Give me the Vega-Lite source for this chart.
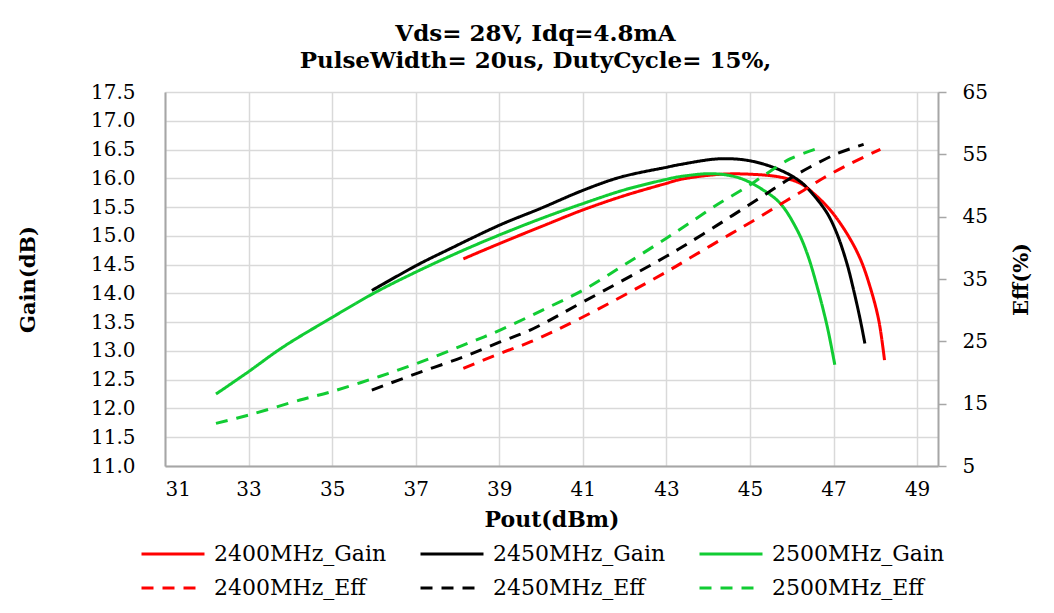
{
  "$schema": "https://vega.github.io/schema/vega-lite/v6.json",
  "autosize": "none",
  "width": 773,
  "height": 374,
  "padding": {"left": 165, "top": 92, "right": 116, "bottom": 147},
  "background": "white",
  "title": {
    "text": ["Vds= 28V, Idq=4.8mA", "PulseWidth=  20us, DutyCycle= 15%,"],
    "font": "DejaVu Serif",
    "fontWeight": "bold",
    "fontSize": 23,
    "lineHeight": 27,
    "anchor": "middle",
    "dx": -16,
    "offset": 9,
    "color": "black"
  },
  "config": {
    "view": {"stroke": null},
    "axis": {
      "labelFont": "DejaVu Serif",
      "labelFontSize": 20,
      "labelColor": "#000000",
      "titleFont": "DejaVu Serif",
      "titleFontWeight": "bold",
      "titleFontSize": 21,
      "titleColor": "#000000",
      "gridColor": "#d9d9d9",
      "gridWidth": 1.5,
      "domainColor": "#a6a6a6",
      "domainWidth": 2,
      "tickColor": "#a6a6a6",
      "tickWidth": 1.5
    },
    "legend": {
      "labelFont": "DejaVu Serif",
      "labelFontSize": 22,
      "labelColor": "#000000",
      "labelLimit": 400
    }
  },
  "datasets": {
    "gain": [
      {"s": "2400MHz_Gain", "x": 38.14, "y": 14.6},
      {"s": "2400MHz_Gain", "x": 39.02, "y": 14.87},
      {"s": "2400MHz_Gain", "x": 40.0, "y": 15.16},
      {"s": "2400MHz_Gain", "x": 41.0, "y": 15.45},
      {"s": "2400MHz_Gain", "x": 42.0, "y": 15.7},
      {"s": "2400MHz_Gain", "x": 42.99, "y": 15.91},
      {"s": "2400MHz_Gain", "x": 43.33, "y": 15.98},
      {"s": "2400MHz_Gain", "x": 44.29, "y": 16.07},
      {"s": "2400MHz_Gain", "x": 45.03, "y": 16.07},
      {"s": "2400MHz_Gain", "x": 45.73, "y": 16.02},
      {"s": "2400MHz_Gain", "x": 46.21, "y": 15.91},
      {"s": "2400MHz_Gain", "x": 46.52, "y": 15.74},
      {"s": "2400MHz_Gain", "x": 46.92, "y": 15.45},
      {"s": "2400MHz_Gain", "x": 47.32, "y": 15.04},
      {"s": "2400MHz_Gain", "x": 47.64, "y": 14.6},
      {"s": "2400MHz_Gain", "x": 47.88, "y": 14.1},
      {"s": "2400MHz_Gain", "x": 48.08, "y": 13.54},
      {"s": "2400MHz_Gain", "x": 48.22, "y": 12.84},
      {"s": "2450MHz_Gain", "x": 35.95, "y": 14.05},
      {"s": "2450MHz_Gain", "x": 37.03, "y": 14.49},
      {"s": "2450MHz_Gain", "x": 37.75, "y": 14.75},
      {"s": "2450MHz_Gain", "x": 39.02, "y": 15.19},
      {"s": "2450MHz_Gain", "x": 40.0, "y": 15.48},
      {"s": "2450MHz_Gain", "x": 41.0, "y": 15.79},
      {"s": "2450MHz_Gain", "x": 41.9, "y": 16.02},
      {"s": "2450MHz_Gain", "x": 42.99, "y": 16.19},
      {"s": "2450MHz_Gain", "x": 43.33, "y": 16.24},
      {"s": "2450MHz_Gain", "x": 44.29, "y": 16.34},
      {"s": "2450MHz_Gain", "x": 45.03, "y": 16.3},
      {"s": "2450MHz_Gain", "x": 45.73, "y": 16.14},
      {"s": "2450MHz_Gain", "x": 46.21, "y": 15.94},
      {"s": "2450MHz_Gain", "x": 46.52, "y": 15.71},
      {"s": "2450MHz_Gain", "x": 46.85, "y": 15.39},
      {"s": "2450MHz_Gain", "x": 47.08, "y": 15.04},
      {"s": "2450MHz_Gain", "x": 47.32, "y": 14.52},
      {"s": "2450MHz_Gain", "x": 47.48, "y": 14.06},
      {"s": "2450MHz_Gain", "x": 47.64, "y": 13.54},
      {"s": "2450MHz_Gain", "x": 47.75, "y": 13.13},
      {"s": "2500MHz_Gain", "x": 32.22, "y": 12.25},
      {"s": "2500MHz_Gain", "x": 33.0, "y": 12.64},
      {"s": "2500MHz_Gain", "x": 33.83, "y": 13.07},
      {"s": "2500MHz_Gain", "x": 34.97, "y": 13.57},
      {"s": "2500MHz_Gain", "x": 35.99, "y": 14.0},
      {"s": "2500MHz_Gain", "x": 37.03, "y": 14.38},
      {"s": "2500MHz_Gain", "x": 38.14, "y": 14.75},
      {"s": "2500MHz_Gain", "x": 39.02, "y": 15.02},
      {"s": "2500MHz_Gain", "x": 40.0, "y": 15.3},
      {"s": "2500MHz_Gain", "x": 41.0, "y": 15.56},
      {"s": "2500MHz_Gain", "x": 42.0, "y": 15.8},
      {"s": "2500MHz_Gain", "x": 42.99, "y": 15.98},
      {"s": "2500MHz_Gain", "x": 43.33, "y": 16.03},
      {"s": "2500MHz_Gain", "x": 44.13, "y": 16.08},
      {"s": "2500MHz_Gain", "x": 44.77, "y": 16.0},
      {"s": "2500MHz_Gain", "x": 45.33, "y": 15.79},
      {"s": "2500MHz_Gain", "x": 45.73, "y": 15.56},
      {"s": "2500MHz_Gain", "x": 46.13, "y": 15.1},
      {"s": "2500MHz_Gain", "x": 46.37, "y": 14.69},
      {"s": "2500MHz_Gain", "x": 46.61, "y": 14.11},
      {"s": "2500MHz_Gain", "x": 46.85, "y": 13.42},
      {"s": "2500MHz_Gain", "x": 47.03, "y": 12.76}
    ],
    "eff": [
      {"s": "2400MHz_Eff", "x": 38.14, "y": 20.66},
      {"s": "2400MHz_Eff", "x": 39.02, "y": 23.06},
      {"s": "2400MHz_Eff", "x": 39.74, "y": 24.9},
      {"s": "2400MHz_Eff", "x": 41.0, "y": 28.9},
      {"s": "2400MHz_Eff", "x": 42.99, "y": 36.1},
      {"s": "2400MHz_Eff", "x": 43.57, "y": 38.4},
      {"s": "2400MHz_Eff", "x": 44.53, "y": 42.2},
      {"s": "2400MHz_Eff", "x": 45.17, "y": 44.7},
      {"s": "2400MHz_Eff", "x": 45.73, "y": 47.0},
      {"s": "2400MHz_Eff", "x": 46.28, "y": 49.2},
      {"s": "2400MHz_Eff", "x": 46.76, "y": 51.2},
      {"s": "2400MHz_Eff", "x": 47.4, "y": 53.5},
      {"s": "2400MHz_Eff", "x": 48.12, "y": 55.8},
      {"s": "2450MHz_Eff", "x": 35.95, "y": 17.18},
      {"s": "2450MHz_Eff", "x": 37.03, "y": 19.86},
      {"s": "2450MHz_Eff", "x": 38.14, "y": 22.5},
      {"s": "2450MHz_Eff", "x": 39.02, "y": 24.9},
      {"s": "2450MHz_Eff", "x": 39.74, "y": 26.8},
      {"s": "2450MHz_Eff", "x": 41.0, "y": 31.3},
      {"s": "2450MHz_Eff", "x": 42.99, "y": 38.6},
      {"s": "2450MHz_Eff", "x": 43.49, "y": 40.6},
      {"s": "2450MHz_Eff", "x": 44.21, "y": 43.6},
      {"s": "2450MHz_Eff", "x": 44.77, "y": 46.0},
      {"s": "2450MHz_Eff", "x": 45.33, "y": 48.4},
      {"s": "2450MHz_Eff", "x": 45.89, "y": 50.85},
      {"s": "2450MHz_Eff", "x": 46.45, "y": 53.0},
      {"s": "2450MHz_Eff", "x": 47.08, "y": 55.1},
      {"s": "2450MHz_Eff", "x": 47.72, "y": 56.6},
      {"s": "2500MHz_Eff", "x": 32.22, "y": 11.84},
      {"s": "2500MHz_Eff", "x": 33.0, "y": 13.17},
      {"s": "2500MHz_Eff", "x": 34.23, "y": 15.58},
      {"s": "2500MHz_Eff", "x": 34.97, "y": 16.9},
      {"s": "2500MHz_Eff", "x": 35.99, "y": 19.05},
      {"s": "2500MHz_Eff", "x": 37.03, "y": 21.46},
      {"s": "2500MHz_Eff", "x": 38.14, "y": 24.39},
      {"s": "2500MHz_Eff", "x": 39.02, "y": 26.8},
      {"s": "2500MHz_Eff", "x": 40.0, "y": 29.9},
      {"s": "2500MHz_Eff", "x": 41.0, "y": 33.2},
      {"s": "2500MHz_Eff", "x": 42.0, "y": 37.3},
      {"s": "2500MHz_Eff", "x": 42.99, "y": 41.5},
      {"s": "2500MHz_Eff", "x": 43.49, "y": 43.7},
      {"s": "2500MHz_Eff", "x": 44.21, "y": 46.9},
      {"s": "2500MHz_Eff", "x": 44.93, "y": 49.8},
      {"s": "2500MHz_Eff", "x": 45.33, "y": 51.6},
      {"s": "2500MHz_Eff", "x": 45.97, "y": 54.3},
      {"s": "2500MHz_Eff", "x": 46.61, "y": 55.93}
    ]
  },
  "encoding": {
    "x": {
      "field": "x",
      "type": "quantitative",
      "scale": {"domain": [31, 49.5], "nice": false, "zero": false},
      "axis": {
        "values": [31, 33, 35, 37, 39, 41, 43, 45, 47, 49],
        "title": "Pout(dBm)",
        "titleFontSize": 22,
        "ticks": false,
        "labelPadding": 13,
        "titlePadding": 10,
        "grid": true
      }
    },
    "color": {
      "field": "s",
      "type": "nominal",
      "scale": {
        "domain": ["2400MHz_Gain", "2450MHz_Gain", "2500MHz_Gain", "2400MHz_Eff", "2450MHz_Eff", "2500MHz_Eff"],
        "range": ["#ff0000", "#000000", "#11cc33", "#ff0000", "#000000", "#11cc33"]
      },
      "legend": {
        "title": null,
        "orient": "none",
        "direction": "horizontal",
        "columns": 3,
        "legendX": -25,
        "legendY": 449,
        "symbolType": "stroke",
        "symbolSize": 3969,
        "symbolStrokeWidth": 3,
        "labelOffset": 8,
        "columnPadding": 32,
        "rowPadding": 8,
        "clipHeight": 26,
        "gridAlign": "all"
      }
    },
    "strokeDash": {
      "field": "s",
      "type": "nominal",
      "scale": {
        "domain": ["2400MHz_Gain", "2450MHz_Gain", "2500MHz_Gain", "2400MHz_Eff", "2450MHz_Eff", "2500MHz_Eff"],
        "range": [[1, 0], [1, 0], [1, 0], [12, 9], [12, 9], [12, 9]]
      },
      "legend": null
    }
  },
  "layer": [
    {
      "data": {"name": "gain"},
      "mark": {"type": "line", "interpolate": "catmull-rom", "strokeWidth": 3},
      "encoding": {
        "y": {
          "field": "y",
          "type": "quantitative",
          "scale": {"domain": [11, 17.5], "nice": false, "zero": false},
          "axis": {
            "orient": "left",
            "values": [11, 11.5, 12, 12.5, 13, 13.5, 14, 14.5, 15, 15.5, 16, 16.5, 17, 17.5],
            "format": ".1f",
            "title": "Gain(dB)",
            "ticks": false,
            "labelPadding": 30,
            "titlePadding": 52,
            "grid": true
          }
        }
      }
    },
    {
      "data": {"name": "eff"},
      "mark": {"type": "line", "interpolate": "catmull-rom", "strokeWidth": 3},
      "encoding": {
        "y": {
          "field": "y",
          "type": "quantitative",
          "scale": {"domain": [5, 65], "nice": false, "zero": false},
          "axis": {
            "orient": "right",
            "values": [5, 15, 25, 35, 45, 55, 65],
            "title": "Eff(%)",
            "titleAngle": 270,
            "ticks": true,
            "tickSize": 8,
            "labelPadding": 16,
            "titlePadding": 44,
            "grid": false
          }
        }
      }
    }
  ],
  "resolve": {"scale": {"y": "independent"}}
}
